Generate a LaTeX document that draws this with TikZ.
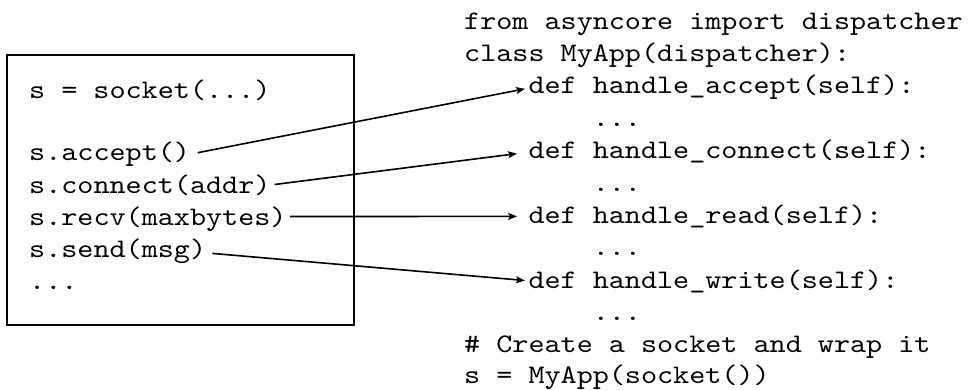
\documentclass[tikz,border=0pt]{standalone}
\usepackage{fontspec}
\newfontfamily\codefont{lmmono10-regular.otf}[FakeStretch=1.143]
\usetikzlibrary{arrows.meta}
\begin{document}
\begin{tikzpicture}[x=1pt,y=-1pt,
  code/.style={inner sep=0pt,anchor=base west,font=\codefont\fontsize{26.8}{32.4}\selectfont},
  frame/.style={draw=black,line width=1.7pt,minimum width=347pt,minimum height=270pt,inner sep=0pt},
  arr/.style={line width=1.6pt,-{Stealth[length=9pt,width=7pt,inset=2pt]}}]
\useasboundingbox (0,0) rectangle (968,389);
\node[frame] (box) at (180.5,190) {};
% left column
\node[code] (l0) at (29,98.3) {s = socket(...)};
\node[code] (lacc) at (29,160.7) {s.accept()};
\node[code] (lcon) at (29,193) {s.connect(addr)};
\node[code] (lrecv) at (29,225.2) {s.recv(maxbytes)};
\node[code] (lsend) at (29,257.4) {s.send(msg)};
\node[code] (ldots) at (29,289.6) {...};
% right column
\node[code] (r1) at (464,29) {from asyncore import dispatcher};
\node[code] (r2) at (464,61.4) {class MyApp(dispatcher):};
\node[code] (hacc) at (528.3,93.8) {def handle\_accept(self):};
\node[code] (d1) at (592.6,126.2) {...};
\node[code] (hcon) at (528.3,158.6) {def handle\_connect(self):};
\node[code] (d2) at (592.6,191) {...};
\node[code] (hread) at (528.3,223.4) {def handle\_read(self):};
\node[code] (d3) at (592.6,255.8) {...};
\node[code] (hwrite) at (528.3,288.2) {def handle\_write(self):};
\node[code] (d4) at (592.6,320.6) {...};
\node[code] (r3) at (464,352.5) {\# Create a socket and wrap it};
\node[code] (r4) at (464,383.2) {s = MyApp(socket())};
% connectors
\draw[arr] ([xshift=7.5pt,yshift=8pt]lacc.base east) -- ([xshift=-3.3pt,yshift=5pt]hacc.base west);
\draw[arr] ([xshift=4pt,yshift=8.5pt]lcon.base east) -- ([xshift=-11.3pt,yshift=5pt]hcon.base west);
\draw[arr] ([xshift=3.2pt,yshift=8.7pt]lrecv.base east) -- ([xshift=-11.3pt,yshift=7pt]hread.base west);
\draw[arr] ([xshift=6pt,yshift=4pt]lsend.base east) -- ([xshift=-3.3pt,yshift=7.7pt]hwrite.base west);
\end{tikzpicture}
\end{document}
